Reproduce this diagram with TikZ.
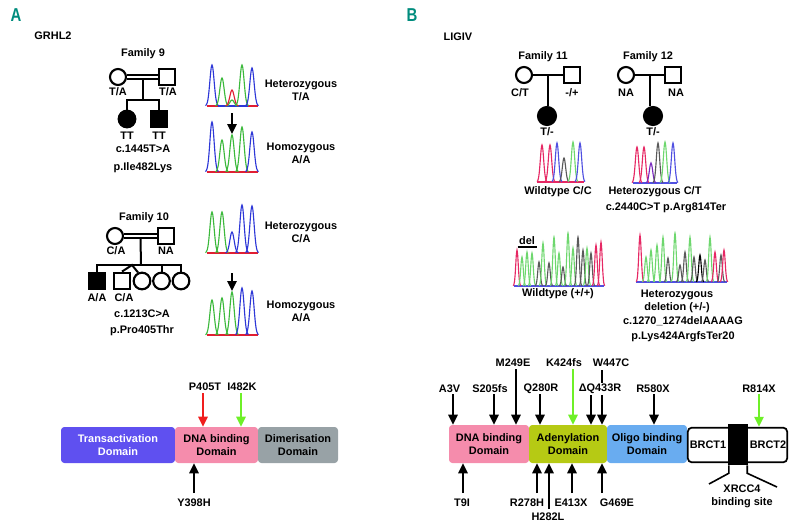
\documentclass[tikz,border=0pt]{standalone}
\usepackage{fontspec}
\setmainfont{Liberation Sans}
\usetikzlibrary{arrows.meta,calc}
\definecolor{panelc}{RGB}{0,140,125}
\definecolor{tadc}{RGB}{95,80,240}
\definecolor{pinkd}{RGB}{245,140,172}
\definecolor{greyd}{RGB}{152,162,166}
\definecolor{adeny}{RGB}{182,202,20}
\definecolor{oligo}{RGB}{105,172,240}
\definecolor{garrow}{RGB}{110,240,40}
\definecolor{rarrow}{RGB}{240,30,30}
\definecolor{cblue}{RGB}{45,55,215}
\definecolor{cgreen}{RGB}{60,185,60}
\definecolor{cred}{RGB}{225,30,50}
\definecolor{bred}{RGB}{230,40,100}
\definecolor{bgray}{RGB}{90,90,90}
\definecolor{bgreen}{RGB}{110,215,110}
\definecolor{bblue}{RGB}{80,80,225}
\definecolor{bpurp}{RGB}{120,40,190}
\newcommand\lblfont{\fontsize{8.2}{9.8}\selectfont\bfseries}
\newcommand\domfont{\fontsize{8.2}{9.4}\selectfont\bfseries}
\newcommand\pkA[4]{\draw[chr,#1] plot[smooth,domain=-6.5:6.5,samples=17] ({#2+\x},{#3-#4*exp(-(\x*\x)/9)});}
\newcommand\pkB[4]{\draw[chr,#1] plot[smooth,domain=-5:5,samples=15] ({#2+\x},{#3-#4*exp(-(\x*\x)/5.5)});}
\newcommand\pkC[4]{\draw[chr,#1] plot[smooth,domain=-3.8:3.8,samples=13] ({#2+\x},{#3-#4*exp(-(\x*\x)/3)});}
\begin{document}
\begin{tikzpicture}[x=0.75pt,y=-0.75pt,
  lbl/.style={font=\lblfont, inner sep=0pt, align=center},
  ped/.style={draw, line width=1.6pt, inner sep=0pt},
  male/.style={ped, rectangle, minimum size=11.5pt},
  fem/.style={ped, circle, minimum size=12pt},
  kid/.style={minimum size=12.5pt},
  aff/.style={fill=black},
  pline/.style={line width=1.5pt},
  cons/.style={line width=1.2pt, double, double distance=2pt},
  arr/.style={line width=1.5pt, -{Triangle[width=7pt,length=7.5pt]}},
  dom/.style={rounded corners=2.5pt, inner sep=0pt, font=\domfont, align=center, minimum height=27pt},
  chr/.style={line width=0.85pt},
  plab/.style={font=\fontsize{14}{14}\selectfont\bfseries, text=panelc, inner sep=0pt}
]
\useasboundingbox (0,0) rectangle (794,529);

% panel labels
\node[plab] (pA) at (16,15) {\scalebox{0.8}[1]{A}};
\node[plab] (pB) at (412,15) {\scalebox{0.8}[1]{B}};
\node[lbl] (grhl) at (53,36) {GRHL2};
\node[lbl] (ligiv) at (458,37) {LIGIV};

% ---------- Family 9 ----------
\node[lbl] (f9t) at (143,54) {Family 9};
\node[fem] (f9m) at (118,77) {};
\node[male] (f9f) at (167,77) {};
\draw[cons] (f9m) -- (f9f);
\coordinate (f9c) at ($(f9m)!0.5!(f9f)$);
\coordinate (f9s) at (142.5,100);
\node[fem,aff,kid] (f9k1) at (127,119) {};
\node[male,aff,kid] (f9k2) at (159,119) {};
\draw[pline] ([yshift=-1.6pt]f9c) -- (f9s);
\draw[pline] (f9k1.north) -- (f9k1.north |- f9s) -- (f9k2.north |- f9s) -- (f9k2.north);
\node[lbl] (f9l1) at (118,92) {T/A};
\node[lbl] (f9l2) at (168,92) {T/A};
\node[lbl] (f9l3) at (127,136) {TT};
\node[lbl] (f9l4) at (159,136) {TT};
\node[lbl] (f9v1) at (143,149) {c.1445T>A};
\node[lbl] (f9v2) at (143,168) {p.Ile482Lys};

% ---------- Family 10 ----------
\node[lbl] (f10t) at (144,218) {Family 10};
\node[fem] (f10m) at (115,236) {};
\node[male] (f10f) at (166,236) {};
\draw[cons] (f10m) -- (f10f);
\coordinate (f10c) at ($(f10m)!0.5!(f10f)$);
\coordinate (f10s) at (141,265);
\draw[pline] ([yshift=-1.6pt]f10c) -- (f10s);
\node[male,aff,kid] (f10k1) at (97,281) {};
\node[male,kid] (f10k2) at (122,281) {};
\node[fem,kid] (f10k3) at (142,281) {};
\node[fem,kid] (f10k4) at (161.5,281) {};
\node[fem,kid] (f10k5) at (181,281) {};
\coordinate (f10tw) at (132,265);
\draw[pline] (f10k1.north) -- (f10k1.north |- f10s) -- (f10k5.north |- f10s) -- (f10k5.north);
\draw[pline] (f10k4.north |- f10s) -- (f10k4.north);
\draw[pline] (f10k2.north) -- (f10tw) -- (f10k3.115);
\node[lbl] (f10l1) at (116,251) {C/A};
\node[lbl] (f10l2) at (166,251) {NA};
\node[lbl] (f10l3) at (97,298) {A/A};
\node[lbl] (f10l4) at (124,298) {C/A};
\node[lbl] (f10v1) at (142,314) {c.1213C>A};
\node[lbl] (f10v2) at (142,331) {p.Pro405Thr};

% ---------- Chromatograms A ----------
\draw[chr,cred] (207,106) -- (258,106);
\draw[chr,cblue] (218,106) -- (248,106);
\pkA{cgreen}{232}{106}{6}
\pkA{cblue}{212}{106}{41}
\pkA{cgreen}{222}{106}{28}
\pkA{cred}{232}{106}{16}
\pkA{cgreen}{242}{106}{41}
\pkA{cblue}{252}{106}{38}
\node[lbl] (cA1) at (301,90.5) {Heterozygous\\T/A};
\coordinate (a1s) at (232,113);
\coordinate (a1e) at (232,134);
\draw[arr] (a1s) -- (a1e);
\draw[chr,cred] (207,172) -- (258,172);
\pkA{cblue}{212}{172}{50}
\pkA{cgreen}{222}{172}{32}
\pkA{cgreen}{232}{172}{37}
\pkA{cgreen}{242}{172}{45}
\pkA{cblue}{252}{172}{40}
\node[lbl] (cA2) at (301,153.5) {Homozygous\\A/A};

\draw[chr,cred] (207,253) -- (258,253);
\pkA{cgreen}{212}{253}{41}
\pkA{cgreen}{222}{253}{41}
\pkA{cblue}{232}{253}{21}
\pkA{cblue}{242}{253}{48}
\pkA{cblue}{252}{253}{47}
\node[lbl] (cA3) at (301,232.5) {Heterozygous\\C/A};
\coordinate (a2s) at (232,273);
\coordinate (a2e) at (232,291);
\draw[arr] (a2s) -- (a2e);
\draw[chr,cred] (207,335) -- (258,335);
\pkA{cgreen}{212}{335}{35}
\pkA{cgreen}{222}{335}{37}
\pkA{cgreen}{232}{335}{43}
\pkA{cblue}{242}{335}{47}
\pkA{cblue}{252}{335}{44}
\node[lbl] (cA4) at (301,311.5) {Homozygous\\A/A};

% ---------- Protein A ----------
\node[dom, fill=tadc, text=white, minimum width=85.5pt] (tadA) at (118,445) {Transactivation\\Domain};
\node[dom, fill=pinkd, minimum width=62.25pt] (dbdA) at (216.5,445) {DNA binding\\Domain};
\node[dom, fill=greyd, minimum width=60pt] (dimA) at (298,445) {Dimerisation\\Domain};
\node[lbl] (p405) at (205,387) {P405T};
\node[lbl] (i482) at (242,387) {I482K};
\coordinate (p405s) at (203,393);
\coordinate (i482s) at (241,393);
\draw[arr,rarrow] (p405s) -- (p405s |- dbdA.north);
\draw[arr,garrow] (i482s) -- (i482s |- dbdA.north);
\node[lbl] (y398) at (194,503) {Y398H};
\coordinate (y398s) at (194,493);
\draw[arr] (y398s) -- (y398s |- dbdA.south);

% ---------- Family 11 ----------
\node[lbl] (f11t) at (543,57) {Family 11};
\node[fem] (f11m) at (524,75) {};
\node[male] (f11f) at (572,75) {};
\draw[pline] (f11m) -- (f11f);
\coordinate (f11c) at ($(f11m)!0.5!(f11f)$);
\node[fem,aff,minimum size=13.5pt] (f11k) at (547,116) {};
\draw[pline] (f11c) -- (f11c |- f11k.north);
\node[lbl] (f11l1) at (520,93) {C/T};
\node[lbl] (f11l2) at (572,93) {-/+};
\node[lbl] (f11l3) at (547,132) {T/-};

% ---------- Family 12 ----------
\node[lbl] (f12t) at (648,57) {Family 12};
\node[fem] (f12m) at (626,75) {};
\node[male] (f12f) at (673,75) {};
\draw[pline] (f12m) -- (f12f);
\coordinate (f12c) at ($(f12m)!0.5!(f12f)$);
\node[fem,aff,minimum size=13.5pt] (f12k) at (653,116) {};
\draw[pline] (f12c) -- (f12c |- f12k.north);
\node[lbl] (f12l1) at (626,93) {NA};
\node[lbl] (f12l2) at (676,93) {NA};
\node[lbl] (f12l3) at (653,132) {T/-};

% ---------- Chromatograms B (top) ----------
\draw[chr,bred] (537,182) -- (584,182);
\pkB{bred}{542}{182}{37}
\pkB{bred}{550}{182}{37}
\pkB{bblue}{557}{182}{39}
\pkB{bgray}{564}{182}{24}
\pkB{bgreen}{573}{182}{40}
\pkB{bblue}{580}{182}{39}
\node[lbl] (cB1) at (558,192) {Wildtype C/C};
\draw[chr,bblue] (633,183) -- (677,183);
\pkB{bred}{637}{183}{36}
\pkB{bred}{644}{183}{36}
\pkB{bpurp}{651}{183}{20}
\pkB{bgray}{658}{183}{40}
\pkB{bgreen}{665}{183}{41}
\pkB{bblue}{673}{183}{40}
\node[lbl] (cB2) at (655,192) {Heterozygous C/T};
\node[lbl] (cB2v) at (666,208) {c.2440C>T p.Arg814Ter};

% ---------- Chromatograms B (bottom) ----------
\draw[chr,bblue] (514,286) -- (604,286);
\pkC{bred}{517}{286}{36}
\pkC{bgreen}{522}{286}{29}
\pkC{bgreen}{527}{286}{34}
\pkC{bgreen}{532}{286}{33}
\pkC{bgray}{539}{286}{24}
\pkC{bgreen}{543}{286}{43}
\pkC{bgray}{549}{286}{23}
\pkC{bgreen}{554}{286}{49}
\pkC{bgreen}{559}{286}{33}
\pkC{bgray}{563}{286}{19}
\pkC{bgreen}{568}{286}{53}
\pkC{bgreen}{573}{286}{38}
\pkC{bgray}{578}{286}{49}
\pkC{bgray}{583}{286}{36}
\pkC{bgreen}{587}{286}{38}
\pkC{bgray}{591}{286}{33}
\pkC{bred}{596}{286}{41}
\pkC{bred}{601}{286}{44}
\node[lbl] (del) at (527,241) {del};
\draw[line width=1.3pt] (del.south west) ++(-1pt,-1.5pt) -- ++(19,0);
\node[lbl] (cB3) at (558,294) {Wildtype (+/+)};
\draw[chr,bblue] (636,282) -- (727,282);
\pkC{bred}{640}{282}{47}
\pkC{bgreen}{646}{282}{25}
\pkC{bgreen}{651}{282}{32}
\pkC{bgreen}{657}{282}{37}
\pkC{bgreen}{663}{282}{45}
\pkC{bgray}{668}{282}{24}
\pkC{bgreen}{675}{282}{49}
\pkC{bgray}{680}{282}{17}
\pkC{bgray}{685}{282}{30}
\pkC{bgreen}{690}{282}{45}
\pkC{bgray}{694}{282}{25}
\pkC{black}{700}{282}{27}
\pkC{bgray}{705}{282}{22}
\pkC{bgreen}{710}{282}{45}
\pkC{bred}{715}{282}{30}
\pkC{bgray}{721}{282}{27}
\pkC{bred}{724}{282}{32}
\node[lbl] (cB4) at (677,301) {Heterozygous\\deletion (+/-)};
\node[lbl] (cB4v1) at (683,321) {c.1270\_1274delAAAAG};
\node[lbl] (cB4v2) at (683,337) {p.Lys424ArgfsTer20};

% ---------- Protein B ----------
\node[dom, fill=pinkd, minimum width=60pt, minimum height=28.5pt] (dnaB) at (489,444) {DNA binding\\Domain};
\node[dom, fill=adeny, minimum width=58.5pt, minimum height=28.5pt] (adeB) at (568,444) {Adenylation\\Domain};
\node[dom, fill=oligo, minimum width=60pt, minimum height=28.5pt] (oliB) at (647,444) {Oligo binding\\Domain};
\node[draw, line width=1.3pt, fill=white, rounded corners=3pt, minimum width=74.5pt, minimum height=26pt, inner sep=0pt] (brct) at (737.5,445) {};
\node[fill=black, minimum width=15pt, minimum height=30.75pt, inner sep=0pt] (xb) at (738,444.5) {};
\node[lbl] (b1) at (708,445) {BRCT1};
\node[lbl] (b2) at (768,445) {BRCT2};
\coordinate (xl) at (709,484);
\coordinate (xr) at (777,487);
\draw[line width=1.2pt] ([xshift=0.8pt]xb.south west) -- ++(0,8) -- (xl);
\draw[line width=1.2pt] ([xshift=-0.8pt]xb.south east) -- ++(0,8) -- (xr);
\node[lbl] (xrcc) at (742,496) {XRCC4\\binding site};

% top arrows
\coordinate (a3vs) at (453,394);
\coordinate (s205s) at (494,394);
\coordinate (m249s) at (516,369);
\coordinate (q280s) at (540,394);
\coordinate (k424s) at (573,369);
\coordinate (q433s) at (591,394);
\coordinate (w447s) at (602,370);
\coordinate (r580s) at (654,394);
\coordinate (r814s) at (759,394);
\draw[arr] (a3vs) -- (a3vs |- dnaB.north);
\draw[arr] (s205s) -- (s205s |- dnaB.north);
\draw[arr] (m249s) -- (m249s |- dnaB.north);
\draw[arr] (q280s) -- (q280s |- adeB.north);
\draw[arr,garrow] (k424s) -- (k424s |- adeB.north);
\draw[arr] (q433s) -- (q433s |- adeB.north);
\draw[arr] (w447s) -- (w447s |- adeB.north);
\draw[arr] (r580s) -- (r580s |- oliB.north);
\draw[arr,garrow] (r814s) -- (r814s |- brct.north);
\node[lbl] (a3v) at (449.5,389) {A3V};
\node[lbl] (s205) at (490,389) {S205fs};
\node[lbl] (m249) at (513,363) {M249E};
\node[lbl] (q280) at (541,389) {Q280R};
\node[lbl] (k424) at (564,363) {K424fs};
\node[lbl, fill=white, inner sep=1pt] (q433) at (600,389) {ΔQ433R};
\node[lbl] (w447) at (611,363) {W447C};
\node[lbl] (r580) at (653,389) {R580X};
\node[lbl] (r814) at (759,389) {R814X};

% bottom arrows
\coordinate (t9s) at (463,493);
\coordinate (r278s) at (537,493);
\coordinate (h282s) at (549,509);
\coordinate (e413s) at (572,493);
\coordinate (g469s) at (602,493);
\draw[arr] (t9s) -- (t9s |- dnaB.south);
\draw[arr] (r278s) -- (r278s |- adeB.south);
\draw[arr] (h282s) -- (h282s |- adeB.south);
\draw[arr] (e413s) -- (e413s |- adeB.south);
\draw[arr] (g469s) -- (g469s |- adeB.south);
\node[lbl] (t9) at (462,503) {T9I};
\node[lbl] (r278) at (527,503) {R278H};
\node[lbl] (h282) at (548,517) {H282L};
\node[lbl] (e413) at (571,503) {E413X};
\node[lbl] (g469) at (617,503) {G469E};
\end{tikzpicture}
\end{document}
